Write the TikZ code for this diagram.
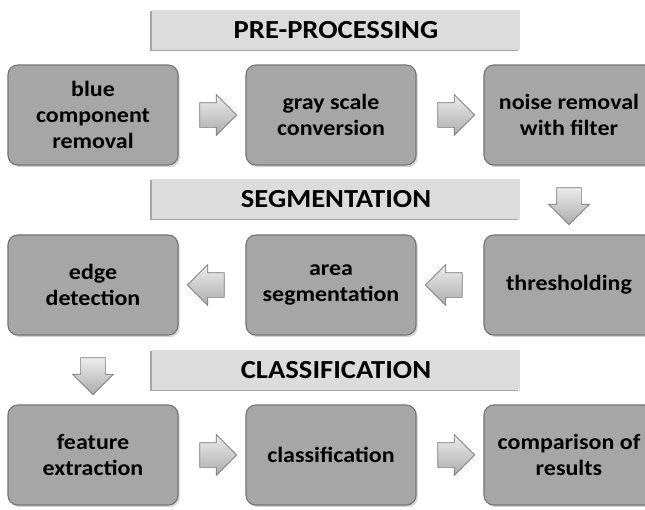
\documentclass[tikz,border=0pt]{standalone}
\usepackage{fontspec}
\setmainfont[FakeStretch=1.1]{Carlito}
\usetikzlibrary{shapes, shapes.arrows, shadows, positioning, calc}
\definecolor{boxgray}{HTML}{A6A6A6}
\definecolor{boxedge}{HTML}{767676}
\definecolor{headgray}{HTML}{DCDCDC}

\begin{document}
\begin{tikzpicture}[x=0.025cm, y=-0.025cm,
	stepbox/.style={draw=boxedge, line width=0.8pt, fill=boxgray, rounded corners=7pt,
		minimum width=4.25cm, minimum height=2.5cm, align=center, inner sep=2pt,
		font=\fontsize{15.5}{18.4}\selectfont\bfseries,
		drop shadow={opacity=0.35, shadow xshift=1.2pt, shadow yshift=-1.5pt}},
	header/.style={fill=headgray, minimum width=9.2cm, minimum height=1cm,
		font=\fontsize{18.5}{19}\selectfont\bfseries,
		drop shadow={fill=gray, opacity=0.7, shadow xshift=-1.5pt, shadow yshift=-0.8pt}},
	blockarrow/.style={single arrow, draw=boxedge, line width=0.5pt,
		top color=gray!15, bottom color=gray!65, minimum height=0.92cm,
		inner xsep=0pt, inner ysep=0.3cm, single arrow head extend=0.2cm}]
	\useasboundingbox (0,0) rectangle (645,509);
	
	\node[header] (pre) at (336,30) {PRE-PROCESSING};
	\node[header] (seg) at (336,199) {SEGMENTATION};
	\node[header] (cls) at (336,370) {CLASSIFICATION};
	
	\node[stepbox] (blue) at (93,115) {blue\\component\\removal};
	\node[stepbox] (gray) at (331,115) {gray scale\\conversion};
	\node[stepbox] (noise) at (569,115) {noise removal\\with filter};
	
	\node[stepbox] (edge) at (93,285) {edge\\detection};
	\node[stepbox] (area) at (331,285) {area\\segmentation};
	\node[stepbox] (thresh) at (569,285) {thresholding};
	
	\node[stepbox] (feat) at (93,455) {feature\\extraction};
	\node[stepbox] (class) at (331,455) {classification};
	\node[stepbox] (comp) at (569,455) {comparison of\\results};
	
	\node[blockarrow] (a1) at ($(blue.east)!0.5!(gray.west)$) {};
	\node[blockarrow] (a2) at ($(gray.east)!0.5!(noise.west)$) {};
	\node[blockarrow, rotate=-90] (a3) at ($(noise.south)!0.5!(thresh.north)$) {};
	\node[blockarrow, rotate=180] (a4) at ($(thresh.west)!0.5!(area.east)$) {};
	\node[blockarrow, rotate=180] (a5) at ($(area.west)!0.5!(edge.east)$) {};
	\node[blockarrow, rotate=-90] (a6) at ($(edge.south)!0.5!(feat.north)$) {};
	\node[blockarrow] (a7) at ($(feat.east)!0.5!(class.west)$) {};
	\node[blockarrow] (a8) at ($(class.east)!0.5!(comp.west)$) {};
\end{tikzpicture}
\end{document}
